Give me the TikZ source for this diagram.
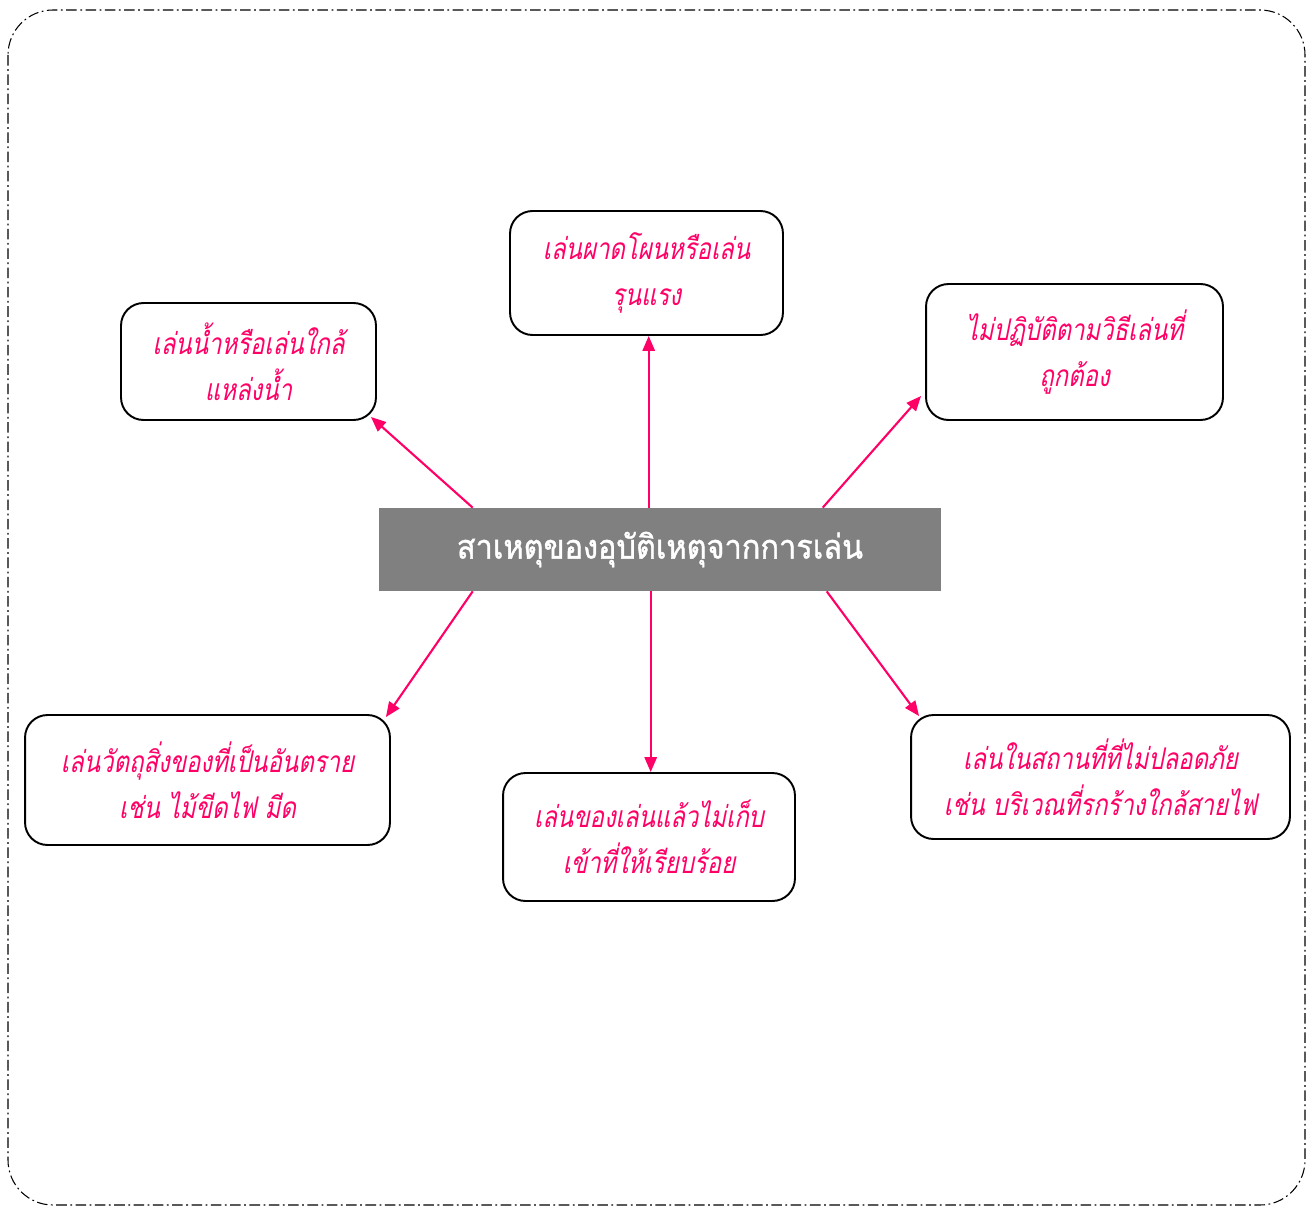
\documentclass[tikz,border=0pt]{standalone}
\usepackage{fontspec}
\usetikzlibrary{arrows.meta,calc}
\newfontfamily\thaifont[Script=Thai,FakeStretch=0.92,FakeBold=1.2]{Loma}
\newfontfamily\thaiit[Script=Thai,FakeSlant=0.2,FakeStretch=0.8]{Loma}
\definecolor{pinkc}{RGB}{255,0,102}
\definecolor{hubgray}{RGB}{128,128,128}
\tikzset{
  causebox/.style={draw=black, line width=1.1pt, rounded corners=0.45cm, fill=white,
    text=pinkc, font=\thaiit\fontsize{17}{26}\selectfont, align=center, inner sep=0pt},
  hub/.style={fill=hubgray, draw=none, text=white, font=\thaifont\fontsize{19}{24}\selectfont, inner sep=0pt},
  arr/.style={draw=pinkc, line width=1.2pt, -{Triangle[length=8.5pt,width=7pt]}, shorten >=0pt},
  frame/.style={draw=black, line width=0.6pt, dash pattern=on 6pt off 2pt on 1pt off 2pt, rounded corners=0.9cm}
}
\begin{document}
\begin{tikzpicture}[x=0.02cm,y=-0.02cm]
\useasboundingbox (0,0) rectangle (1309,1207);
\draw[frame] (8,10) rectangle (1305,1205);

\node[hub, minimum width=11.24cm, minimum height=1.66cm] (c) at (660,549.5) {สาเหตุของอุบัติเหตุจากการเล่น};

\node[causebox, minimum width=5.46cm, minimum height=2.48cm] (t) at (646.5,273) {เล่นผาดโผนหรือเล่น\\รุนแรง};
\node[causebox, minimum width=5.10cm, minimum height=2.34cm] (tl) at (248.5,361.5) {เล่นน้ำหรือเล่นใกล้\\แหล่งน้ำ};
\node[causebox, minimum width=5.94cm, minimum height=2.72cm] (tr) at (1074.5,352) {ไม่ปฏิบัติตามวิธีเล่นที่\\ถูกต้อง};
\node[causebox, minimum width=7.30cm, minimum height=2.60cm] (bl) at (207.5,780) {เล่นวัตถุสิ่งของที่เป็นอันตราย\\เช่น ไม้ขีดไฟ มีด};
\node[causebox, minimum width=5.84cm, minimum height=2.56cm] (bm) at (649,837) {เล่นของเล่นแล้วไม่เก็บ\\เข้าที่ให้เรียบร้อย};
\node[causebox, minimum width=7.58cm, minimum height=2.48cm] (br) at (1100.5,777) {เล่นในสถานที่ที่ไม่ปลอดภัย\\เช่น บริเวณที่รกร้างใกล้สายไฟ};

\coordinate (s1) at ($(c.north west)+(94,0)$);
\coordinate (s2) at ($(c.north west)+(270,0)$);
\coordinate (s3) at ($(c.north west)+(444,0)$);
\coordinate (s4) at ($(c.south west)+(94,0)$);
\coordinate (s5) at ($(c.south west)+(272,0)$);
\coordinate (s6) at ($(c.south west)+(448,0)$);

\draw[arr] (s1) -- ($(tl.south east)+(-6,-4)$);
\draw[arr] (s2) -- (s2 |- t.south);
\draw[arr] (s3) -- ($(tr.south west)+(-4,-25)$);
\draw[arr] (s4) -- ($(bl.north east)+(-5,3)$);
\draw[arr] (s5) -- (s5 |- bm.north);
\draw[arr] (s6) -- ($(br.north west)+(9,2)$);
\end{tikzpicture}
\end{document}
